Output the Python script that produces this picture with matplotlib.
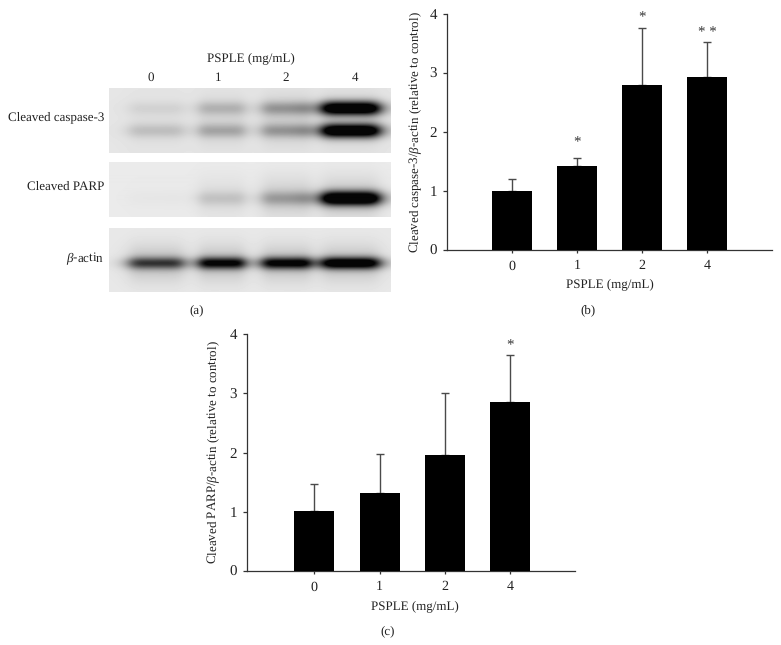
import numpy as np
import matplotlib
matplotlib.use("Agg")
import matplotlib.pyplot as plt

W, H = 781, 645
plt.rcParams['font.family'] = ['Liberation Serif', 'DejaVu Serif']
plt.rcParams['mathtext.fontset'] = 'custom'
plt.rcParams['mathtext.it'] = 'Liberation Serif:italic'
plt.rcParams['mathtext.rm'] = 'Liberation Serif'
plt.rcParams['text.hinting'] = 'no_hinting'
plt.rcParams['text.hinting_factor'] = 1

doses = ['0', '1', '2', '4']
casp_means = [1.0, 1.42, 2.80, 2.94]
casp_errs = [0.20, 0.14, 0.96, 0.58]
casp_marks = ['', '*', '*', '* *']
casp_mark_y = [0, 1.81, 3.93, 3.68]
parp_means = [1.01, 1.32, 1.95, 2.86]
parp_errs = [0.45, 0.66, 1.06, 0.78]
parp_marks = ['', '', '', '*']
parp_mark_y = [0, 0, 0, 3.80]

# blot band darkness per lane
casp_upper = [0.05, 0.14, 0.22, 1.0]
casp_lower = [0.11, 0.18, 0.22, 1.0]
parp_band = [0.01, 0.09, 0.18, 1.0]
actin_band = [0.55, 0.78, 0.80, 0.95]
lane_centers = [0.167, 0.40, 0.63, 0.858]
lane_widths = [0.10, 0.085, 0.09, 0.105]
lane_labels_x = [151, 218, 286, 355]


def axpx(x0, y0, x1, y1):
    return fig.add_axes([x0 / W, 1 - y1 / H, (x1 - x0) / W, (y1 - y0) / H])


def blot(box, bands, yfracs, sy, bg, haze, gain):
    ax = axpx(*box)
    nx, ny = int(box[2] - box[0]), int(box[3] - box[1])
    xx, yy = np.meshgrid(np.linspace(0, 1, nx), np.linspace(0, 1, ny))
    dark = np.zeros_like(xx)
    for vals, yf in zip(bands, yfracs):
        for c, w, v in zip(lane_centers, lane_widths, vals):
            prof = 1 / (1 + ((xx - c) / w) ** 6)
            dark += v * gain * prof * np.exp(-((yy - yf) / sy) ** 2)
            dark += haze * min(v * 2.2, 0.5) * prof * np.exp(-((yy - yf) / (sy * 3)) ** 2)
    dark = np.clip(dark, 0, 1)
    img = bg * (1 - dark) + 0.02 * dark
    ax.imshow(img, cmap='gray', vmin=0, vmax=1, aspect='auto', interpolation='bilinear')
    ax.axis('off')


def barpanel(x0, y0, x1, y1, first, step, means, errs, marks, mark_y, ylabel, label_x, label_y, ypad):
    ax = axpx(x0, y0, x1, y1)
    pos = np.arange(len(means))
    ax.set_xlim((x0 - first) / step, (x1 - first) / step)
    ax.set_ylim(0, 4)
    ax.bar(pos, means, width=40 / step, color='black', zorder=3)
    ax.errorbar(pos, means, yerr=[np.zeros(len(errs)), errs], fmt='none', ecolor='#4a4a4a',
                elinewidth=1.0, capsize=3, capthick=1.0, zorder=2)
    ax.set_xticks(pos, doses)
    ax.set_yticks(range(5))
    for s in ('top', 'right'):
        ax.spines[s].set_visible(False)
    for s in ('left', 'bottom'):
        ax.spines[s].set_linewidth(0.9)
        ax.spines[s].set_color('#333333')
    ax.tick_params(axis='x', length=2.5, width=0.9, pad=4.5, labelsize=10, color='#333333', labelcolor='#222222')
    ax.tick_params(axis='y', length=3, width=0.9, pad=4, labelsize=10.5, color='#333333', labelcolor='#222222')
    ax.set_xlabel('PSPLE (mg/mL)', fontsize=9.4, color='#222222')
    ax.xaxis.set_label_coords((label_x - x0) / (x1 - x0), -(label_y - y1) / (y1 - y0))
    ax.xaxis.label.set_va('center')
    ax.set_ylabel(ylabel, fontsize=9.6, color='#222222', labelpad=ypad)
    for p, y, t_ in zip(pos, mark_y, marks):
        if t_:
            ax.text(p, y, t_, ha='center', va='center', fontsize=10.5, color='#333333')
    return ax


fig = plt.figure(figsize=(W / 100, H / 100), dpi=100)

blot((109, 88, 391, 153), [casp_upper, casp_lower], [0.31, 0.66], 0.11, 0.90, 0.12, 1.3)
blot((109, 162, 391, 217), [parp_band], [0.67], 0.13, 0.92, 0.30, 1.3)
blot((109, 228, 391, 292), [actin_band], [0.55], 0.095, 0.91, 0.35, 1.15)


def t(x, y, s, **kw):
    fig.text(x / W, 1 - y / H, s, fontsize=9.4, color='#222222', va='center', **kw)


t(251, 58, 'PSPLE (mg/mL)', ha='center')
for x_, d in zip(lane_labels_x, doses):
    t(x_, 78, d, ha='center')
t(104, 117, 'Cleaved caspase-3', ha='right')
t(104, 187, 'Cleaved PARP', ha='right')
t(104, 258, r'$\mathit{\beta}$-actin', ha='right')
t(197, 310, '(a)', ha='center')
t(588, 310, '(b)', ha='center')
t(388, 631, '(c)', ha='center')

barpanel(446.7, 14, 772, 250, 511.7, 65.2, casp_means, casp_errs, casp_marks, casp_mark_y,
         r'Cleaved caspase-3/$\mathit{\beta}$-actin (relative to control)', 610, 284, 5)
barpanel(246.7, 334, 575, 571, 314.3, 65.2, parp_means, parp_errs, parp_marks, parp_mark_y,
         r'Cleaved PARP/$\mathit{\beta}$-actin (relative to control)', 415, 606, 6)

fig.savefig('out.png', dpi=100)
